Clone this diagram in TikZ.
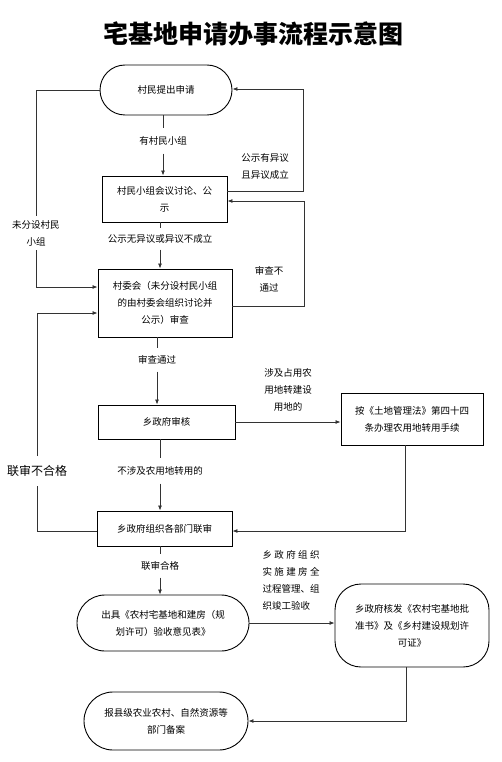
\documentclass[tikz,border=0pt]{standalone}
\usepackage{fontspec}
\setmainfont{Noto Sans CJK SC}
\usetikzlibrary{arrows.meta}
\begin{document}
\begin{tikzpicture}[x=1pt,y=-1pt,
  txt/.style={font=\fontsize{9.5}{17}\selectfont, align=center},
  box/.style={txt, draw=black, line width=0.9pt, inner sep=0pt},
  stad/.style={box, rounded corners=#1},
  lab/.style={txt, inner xsep=2pt},
  ln/.style={draw=black!80, line width=0.8pt},
  arr/.style={ln, -{Latex[length=5pt,width=4pt]}}]
\useasboundingbox (0,0) rectangle (502,762);

\node (title) at (253.5,34) {\fontsize{25}{30}\selectfont\bfseries 宅基地申请办事流程示意图};

% main nodes
\node[stad=25pt, minimum width=132pt, minimum height=50pt] (n1) at (166,90) {村民提出申请};
\node[box, minimum width=125pt, minimum height=46pt] (n2) at (164.5,199) {村民小组会议讨论、公\\示};
\node[box, minimum width=134pt, minimum height=68pt] (n3) at (165,303) {村委会（未分设村民小组\\的由村委会组织讨论并\\公示）审查};
\node[box, minimum width=137pt, minimum height=34pt] (n4) at (166.5,422) {乡政府审核};
\node[box, minimum width=142pt, minimum height=52pt] (n5) at (412,419) {按《土地管理法》第四十四\\条办理农用地转用手续};
\node[box, minimum width=135pt, minimum height=35pt] (n6) at (164.5,528.5) {乡政府组织各部门联审};
\node[stad=28pt, minimum width=172pt, minimum height=56pt] (n7) at (163,623) {出具《农村宅基地和建房（规\\划许可）验收意见表》};
\node[stad=26pt, minimum width=154pt, minimum height=83pt] (n8) at (412,625.5) {乡政府核发《农村宅基地批\\准书》及《乡村建设规划许\\可证》};
\node[stad=29pt, minimum width=164pt, minimum height=58pt] (n9) at (166,721) {报县级农业农村、自然资源等\\部门备案};

% labels on lines
\node[lab, inner ysep=8pt] (l1) at (163,141) {有村民小组};
\node[lab, inner ysep=6pt] (l2) at (160,239) {公示无异议或异议不成立};
\node[lab, inner ysep=7pt] (l3) at (157,360) {审查通过};
\node[lab, inner ysep=8pt] (l4) at (160,471) {不涉及农用地转用的};
\node[lab, inner ysep=7pt] (l5) at (160,566) {联审合格};
\node[lab, inner ysep=4pt] (lw1) at (36,233) {未分设村民\\小组};
\node[lab, inner ysep=9pt, font=\fontsize{12}{14}\selectfont] (lw2) at (37,471) {联审不合格};

% side labels
\node[lab] (s1) at (265,166) {公示有异议\\且异议成立};
\node[lab] (s2) at (269,279) {审查不\\通过};
\node[lab] (s3) at (288,390) {涉及占用农\\用地转建设\\用地的};
\node[lab, align=left] (s4) at (291,580) {乡\hspace{0.25em}政\hspace{0.25em}府\hspace{0.25em}组\hspace{0.25em}织\\实\hspace{0.25em}施\hspace{0.25em}建\hspace{0.25em}房\hspace{0.25em}全\\过程管理、组\\织竣工验收};

% main flow
\draw[ln] (l1.north |- n1.south) -- (l1.north);
\draw[arr] (l1.south) -- (l1.south |- n2.north);
\draw[ln] (l2.north |- n2.south) -- (l2.north);
\draw[arr] (l2.south) -- (l2.south |- n3.north);
\draw[ln] (l3.north |- n3.south) -- (l3.north);
\draw[arr] (l3.south) -- (l3.south |- n4.north);
\draw[ln] (l4.north |- n4.south) -- (l4.north);
\draw[arr] (l4.south) -- (l4.south |- n6.north);
\draw[ln] (l5.north |- n6.south) -- (l5.north);
\draw[arr] (l5.south) -- (l5.south |- n7.north);

% side flows
\draw[arr] (n4.east) -- (n4.east -| n5.west);
\draw[arr] ([xshift=-7pt]n5.south) |- ([yshift=-2.5pt]n6.east);
\draw[arr] (n7.east) -- (n7.east -| n8.west);
\draw[arr] ([xshift=-6pt]n8.south) |- (n9.east);

% feedback loops
\draw[arr] ([yshift=8pt]n2.east) -- ++(76,0) |- ([yshift=1pt]n1.east);
\draw[arr] ([yshift=-3pt]n3.east) -- ++(72,0) |- ([yshift=-2pt]n2.east);
\draw[ln] (n1.west) -| (lw1.north);
\draw[arr] (lw1.south) |- ([yshift=16pt]n3.west);
\draw[ln] ([yshift=-2.5pt]n6.west) -| (lw2.south);
\draw[arr] (lw2.north) |- ([yshift=-10pt]n3.west);
\end{tikzpicture}
\end{document}
